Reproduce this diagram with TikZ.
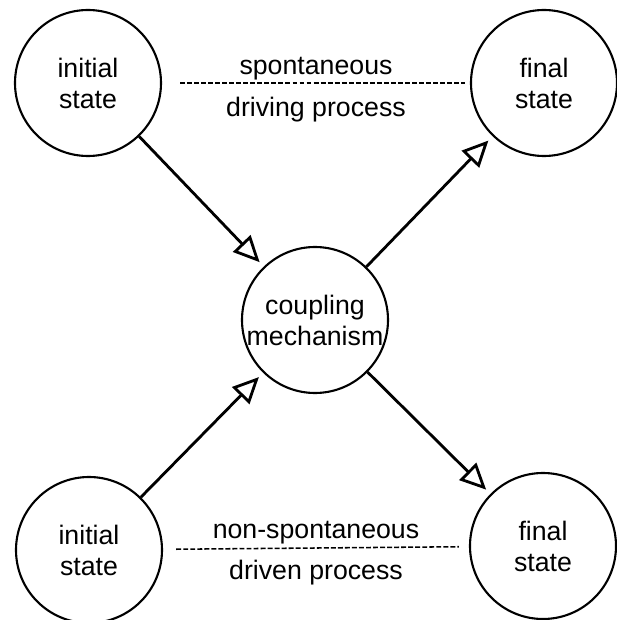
\documentclass[tikz,border=0pt]{standalone}
\usepackage{fontspec}
\setmainfont{Liberation Sans}
\usetikzlibrary{positioning, arrows.meta}

\begin{document}
\begin{tikzpicture}[node distance=5.8cm,on grid,auto,
                    font=\fontsize{19}{22}\selectfont]
  \tikzset{
    ball/.style={circle, draw, line width=1.5pt, minimum size=3.65cm,
                 inner sep=0pt, align=center},
    flow/.style={-{Triangle[open,length=6.5mm,width=6mm]}, line width=2pt,
                 shorten >=0.15cm},
    proc/.style={dash pattern=on 3.5pt off 1.5pt, line width=1.1pt}
  }
  \useasboundingbox (-7.875,-7.5) rectangle (7.525,8);

  \node[ball]  (coup)                                    {coupling\\mechanism};
  \node[ball]  (init1) [above left  = 5.925cm and 5.675cm of coup] {initial\\state};
  \node[ball]  (fin1)  [above right = 5.925cm and 5.725cm of coup] {final\\state};
  \node[ball]  (init2) [below left  = 5.75cm and 5.65cm of coup]   {initial\\state};
  \node[ball]  (fin2)  [below right = 5.65cm and 5.7cm of coup]    {final\\state};

  % coupled pair of processes
  \draw[proc, shorten <=0.45cm, shorten >=0.12cm] (init1) --
      node[above=-1.5pt] {spontaneous} node[below=6pt] {driving process} (fin1);
  \draw[proc, shorten <=0.33cm, shorten >=0.25cm] (init2) --
      node[above=-1pt] {non-spontaneous} node[below=5pt] {driven process} (fin2);

  \path
    (init1) edge[flow] (coup)
    (coup)  edge[flow] (fin1)
    (init2) edge[flow] (coup)
    (coup)  edge[flow] (fin2);
\end{tikzpicture}
\end{document}
